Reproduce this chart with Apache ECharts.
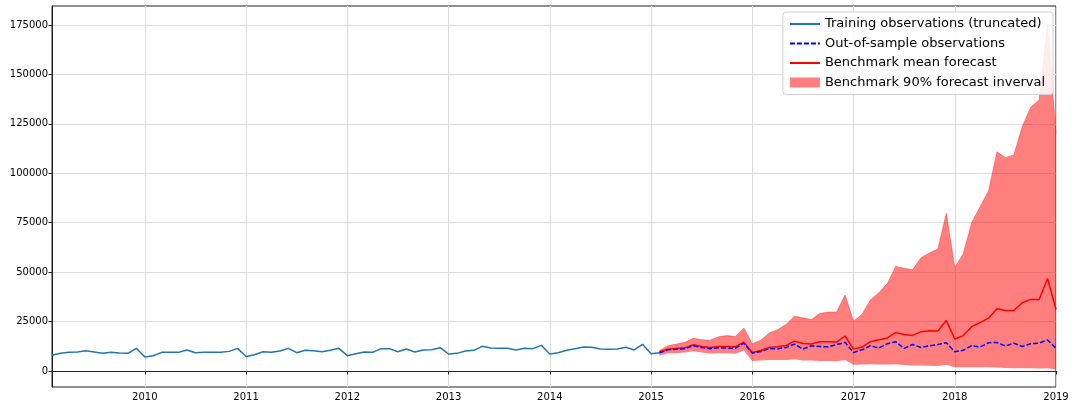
<!DOCTYPE html>
<html>
<head>
<meta charset="utf-8">
<script src="https://cdn.jsdelivr.net/npm/echarts@6/dist/echarts.min.js"></script>
<style>
  html, body { margin: 0; padding: 0; background: #fff; }
  #chart { width: 1076px; height: 411px; }
</style>
</head>
<body>
<div id="chart"></div>
<script>
// monthly categories, 2009-02 .. 2019-01
const months = []
for (let y = 2009; y <= 2019; y++) {
  for (let m = 1; m <= 12; m++) {
    if ((y === 2009 && m < 2) || (y === 2019 && m > 1)) continue
    months.push(y + '-' + (m < 10 ? '0' + m : m))
  }
}

const yTicks = [0, 25000, 50000, 75000, 100000, 125000, 150000, 175000]

// training observations 2009-02 .. 2015-02
const training = [
  8000, 8920, 9420, 9590, 10270, 9590, 8920, 9420, 9080, 8920, 11450,
  7070, 7740, 9420, 9420, 9420, 10620, 9250, 9420, 9420, 9420, 9920, 11450,
  7300, 8240, 9750, 9420, 10100, 11450, 9250, 10450, 10270, 9750, 10450, 11450,
  7740, 8750, 9590, 9420, 11300, 11300, 9750, 11100, 9590, 10620, 10790, 11800,
  8580, 8920, 10100, 10450, 12470, 11620, 11450, 11450, 10620, 11450, 11300, 12970,
  8580, 9250, 10450, 11300, 12140, 11960, 11100, 10960, 11100, 11960, 10620, 13500,
  8750, 9250
]

// forecast period 2015-02 .. 2019-01
const outOfSample = [
  9250, 10700, 11050, 11200, 12750, 11900, 11200, 11700, 11560, 11400, 14100,
  9000, 9860, 11200, 11200, 11900, 13600, 11050, 12750, 12400, 12200, 13300, 14500,
  9350, 10700, 12750, 11560, 13800, 14800, 11400, 13400, 11900, 12750, 13400, 14300,
  9700, 10500, 12750, 12100, 14300, 14450, 12600, 14100, 12400, 13800, 14100, 15650,
  11560
]
const meanForecast = [
  9700, 11050, 11400, 11700, 13300, 12400, 11900, 12400, 12400, 12200, 14600,
  9350, 10400, 11900, 12200, 12900, 15100, 13900, 13600, 14800, 14800, 14600, 17700,
  11050, 12100, 14800, 15800, 16700, 19400, 18500, 18000, 19900, 20400, 20200, 25500,
  16200, 17900, 22400, 24500, 26700, 31500, 30600, 30600, 34500, 36200, 36200, 46800,
  31100
]
const upperBound = [
  10400, 12750, 13600, 14500, 16500, 15800, 15600, 17300, 17900, 17500, 21800,
  13800, 15500, 19200, 20900, 23500, 27700, 26900, 26000, 29100, 29800, 29800, 38500,
  25200, 28600, 35900, 39600, 44200, 52900, 51900, 51200, 57300, 59700, 61700, 79800,
  52400, 59200, 75000, 83100, 91000, 110900, 107900, 109300, 123600, 133400, 137100, 175500,
  120000
]
const lowerBound = [
  7650, 9000, 9000, 9350, 10000, 9350, 8800, 9000, 9000, 8700, 10400,
  5100, 5300, 5600, 5600, 5600, 5950, 5300, 5300, 5100, 5100, 4900, 5600,
  3100, 3300, 3400, 3300, 3300, 3400, 3000, 2800, 2800, 2700, 2500, 3100,
  1900, 1900, 1900, 1900, 1900, 1800, 1500, 1400, 1400, 1400, 1300, 1400,
  800
]

const forecastStart = months.indexOf('2015-02')
const pad = (arr, start) => months.map((m, i) => {
  const v = arr[i - start]
  return v === undefined ? null : v
})
const bandDiff = upperBound.map((v, i) => v - lowerBound[i])

const chart = echarts.init(document.getElementById('chart'))
const font = 'DejaVu Sans'
const isJan = (idx, val) => val.slice(5) === '01'

const option = {
  animation: false,
  textStyle: { fontFamily: font },
  grid: {
    left: 52, right: 20, top: 6, bottom: 24,
    show: true, borderColor: '#222', borderWidth: 1, backgroundColor: 'transparent'
  },
  legend: {
    orient: 'vertical',
    right: 23,
    top: 12,
    padding: [5, 8, 5, 6],
    itemWidth: 30,
    itemHeight: 10,
    itemGap: 5.5,
    backgroundColor: 'rgba(255,255,255,0.85)',
    borderColor: '#d0d0d0',
    borderWidth: 1,
    borderRadius: 3,
    textStyle: { fontFamily: font, fontSize: 13, color: '#000', lineHeight: 14 },
    // hide the marker dot of line icons, keep the line
    itemStyle: { opacity: 0 },
    data: [
      'Training observations (truncated)',
      'Out-of-sample observations',
      'Benchmark mean forecast',
      { name: 'Benchmark 90% forecast inverval', icon: 'rect', itemStyle: { color: 'rgba(255,0,0,0.5)', opacity: 1 } }
    ]
  },
  xAxis: {
    type: 'category',
    data: months,
    boundaryGap: false,
    axisLine: { lineStyle: { color: '#222' } },
    axisTick: { interval: isJan, length: 3.5, lineStyle: { color: '#222' } },
    axisLabel: {
      interval: isJan,
      formatter: v => v.slice(0, 4),
      fontFamily: font, fontSize: 10, color: '#000', margin: 5
    },
    splitLine: { show: true, interval: isJan, lineStyle: { color: '#dcdcdc', width: 1 } }
  },
  yAxis: {
    type: 'value',
    min: -8100,
    max: 184600,
    axisLine: { show: true, lineStyle: { color: '#222' } },
    axisTick: { show: true, length: 3.5, customValues: yTicks, lineStyle: { color: '#222' } },
    axisLabel: {
      customValues: yTicks,
      formatter: v => String(v),
      fontFamily: font, fontSize: 10, color: '#000', margin: 4
    },
    splitLine: { show: true, customValues: yTicks, lineStyle: { color: '#dcdcdc', width: 1 } }
  },
  series: [
    {
      name: 'lower',
      type: 'line',
      stack: 'band',
      data: pad(lowerBound, forecastStart),
      symbol: 'none',
      silent: true,
      lineStyle: { width: 0, opacity: 0 }
    },
    {
      name: 'Benchmark 90% forecast inverval',
      type: 'line',
      stack: 'band',
      data: pad(bandDiff, forecastStart),
      symbol: 'none',
      silent: true,
      itemStyle: { color: 'rgba(255,0,0,0.5)' },
      lineStyle: { width: 0.8, color: 'rgba(255,0,0,0.45)' },
      areaStyle: { color: 'rgba(255,0,0,0.5)', opacity: 1 }
    },
    {
      name: 'Training observations (truncated)',
      type: 'line',
      data: pad(training, 0),
      symbol: 'none',
      itemStyle: { color: '#1f77b4' },
      lineStyle: { color: '#1f77b4', width: 1.5 }
    },
    {
      name: 'Benchmark mean forecast',
      type: 'line',
      data: pad(meanForecast, forecastStart),
      symbol: 'none',
      itemStyle: { color: '#ff0000' },
      lineStyle: { color: '#ff0000', width: 1.5 }
    },
    {
      name: 'Out-of-sample observations',
      type: 'line',
      data: pad(outOfSample, forecastStart),
      symbol: 'none',
      itemStyle: { color: '#0000ff' },
      lineStyle: { color: '#0000ff', width: 1.5, type: [5, 2] }
    }
  ]
}
chart.setOption(option)
</script>
</body>
</html>
